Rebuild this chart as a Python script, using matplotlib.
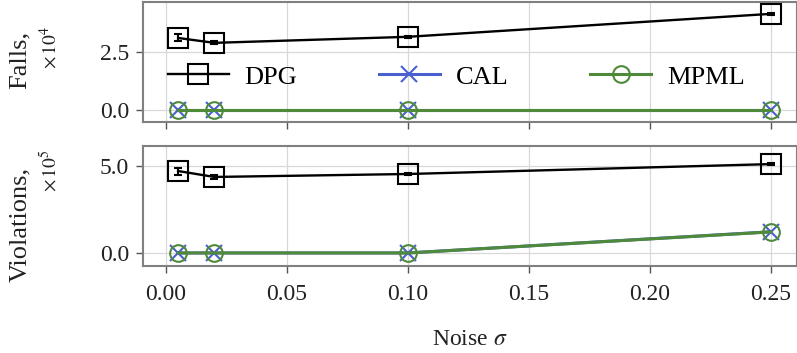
import numpy as np
import matplotlib
matplotlib.use("Agg")
import matplotlib.pyplot as plt

plt.rcParams['font.family'] = ['Liberation Serif', 'DejaVu Serif']
plt.rcParams['mathtext.fontset'] = 'stix'

# data
noise = [0.005, 0.02, 0.1, 0.25]
methods = ['DPG', 'CAL', 'MPML']

falls_dpg = [3.10, 2.89, 3.15, 4.14]
falls_dpg_err = [0.15, 0.06, 0.05, 0.05]
falls_cal = [0.0, 0.0, 0.0, 0.0]
falls_mpml = [0.0, 0.0, 0.0, 0.0]

viol_dpg = [4.71, 4.37, 4.54, 5.11]
viol_dpg_err = [0.2, 0.1, 0.05, 0.05]
viol_cal = [0.0, 0.0, 0.0, 1.22]
viol_mpml = [0.0, 0.0, 0.0, 1.21]

colors = {'DPG': 'black', 'CAL': '#4a5fd0', 'MPML': '#4e8a3a'}
markers = {'DPG': 's', 'CAL': 'x', 'MPML': 'o'}

W, H = 797, 353
fig, axes = plt.subplots(2, 1, figsize=(W / 100, H / 100), dpi=100, sharex=True)
fig.subplots_adjust(left=143 / W, right=1.0, top=1 - 2 / H, bottom=1 - 266 / H, hspace=0.2)

panels = [
    (axes[0], [falls_dpg, falls_cal, falls_mpml], falls_dpg_err, (-0.52, 4.65), [0.0, 2.5]),
    (axes[1], [viol_dpg, viol_cal, viol_mpml], viol_dpg_err, (-0.75, 6.15), [0.0, 5.0]),
]

legend_handles = []
for ax, series, err, ylim, yt in panels:
    handles = []
    for name, vals in zip(methods, series):
        if name == 'DPG':
            h = ax.errorbar(noise, vals, yerr=err, color=colors[name], marker=markers[name],
                            markersize=14, markerfacecolor='none', markeredgewidth=1.5,
                            linewidth=1.7, capsize=3, elinewidth=1.5, zorder=3)
            h = h[0]
        else:
            h, = ax.plot(noise, vals, color=colors[name], marker=markers[name],
                         markersize=12, markerfacecolor='none', markeredgewidth=1.5,
                         linewidth=2.2, zorder=3)
        handles.append(h)
    if not legend_handles:
        legend_handles = handles
    ax.set_ylim(*ylim)
    ax.set_yticks(yt)
    ax.set_yticklabels([f'{v:.1f}' for v in yt])
    ax.set_xlim(-0.0095, 0.2607)
    ax.set_xticks([0.0, 0.05, 0.10, 0.15, 0.20, 0.25])
    ax.grid(True, color='#d8d8d8', linewidth=0.9)
    ax.set_axisbelow(True)
    for s in ax.spines.values():
        s.set_color('#808080')
        s.set_linewidth(1.5)
    ax.tick_params(direction='out', length=5, width=1.0, color='#555555',
                   labelsize=17, labelcolor='#222222', pad=5)

axes[1].tick_params(axis='x', pad=8)
axes[1].set_xticklabels(['0.00', '0.05', '0.10', '0.15', '0.20', '0.25'])
axes[1].set_xlabel(r'Noise $\sigma$', fontsize=17, color='#222222', labelpad=17)

# two-line y labels
fig.text(20 / W, 1 - 60 / H, 'Falls,', rotation=90, ha='center', va='center',
         fontsize=19, color='#222222')
fig.text(50 / W, 1 - 47 / H, r'$\times\,10^4$', rotation=90, ha='center', va='center',
         fontsize=14, color='#222222')
fig.text(20 / W, 1 - 224 / H, 'Violations,', rotation=90, ha='center', va='center',
         fontsize=19, color='#222222')
fig.text(50 / W, 1 - 171 / H, r'$\times\,10^5$', rotation=90, ha='center', va='center',
         fontsize=14, color='#222222')

axes[0].legend(legend_handles, methods, loc='center', bbox_to_anchor=(0.479, 0.375), ncol=3,
               frameon=False, fontsize=19, handlelength=2.3, columnspacing=3.1,
               handletextpad=0.6, borderpad=0)

fig.savefig('out.png', dpi=100)
